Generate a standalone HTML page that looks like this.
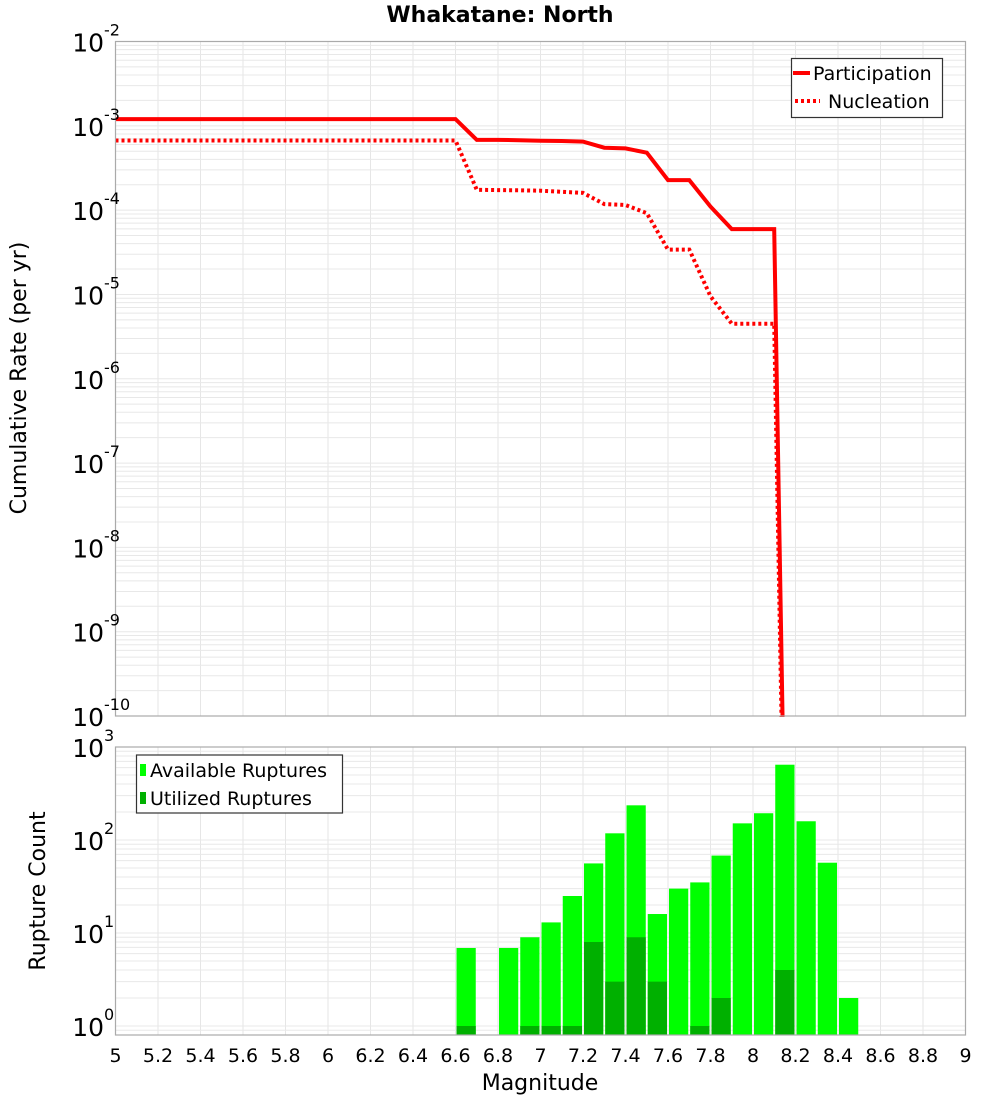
<!DOCTYPE html>
<html><head><meta charset="utf-8"><style>
html,body{margin:0;padding:0;background:#fff;width:1000px;height:1100px;overflow:hidden;}
svg{display:block;font-family:"DejaVu Sans","Liberation Sans",sans-serif;}
</style></head><body>
<svg id="chart" width="1000" height="1100"></svg>
<script>
const magX = [5, 6.6, 6.7, 6.8, 6.9, 7.0, 7.1, 7.2, 7.3, 7.4, 7.5, 7.6, 7.7, 7.8, 7.9, 8.0, 8.1, 8.2];
const partRate = [1.2e-3, 1.2e-3, 6.8e-4, 6.8e-4, 6.75e-4, 6.65e-4, 6.6e-4, 6.5e-4, 5.5e-4, 5.4e-4, 4.8e-4, 2.27e-4, 2.27e-4, 1.1e-4, 5.95e-5, 5.95e-5, 5.95e-5, 1e-19];
const nuclRate = [6.7e-4, 6.7e-4, 1.74e-4, 1.73e-4, 1.72e-4, 1.7e-4, 1.65e-4, 1.6e-4, 1.18e-4, 1.15e-4, 9.2e-5, 3.4e-5, 3.4e-5, 9.5e-6, 4.5e-6, 4.5e-6, 4.5e-6, 1e-19];
const binStart = [6.6, 6.7, 6.8, 6.9, 7.0, 7.1, 7.2, 7.3, 7.4, 7.5, 7.6, 7.7, 7.8, 7.9, 8.0, 8.1, 8.2, 8.3, 8.4];
const availCount = [6.9, 0, 6.9, 9, 13, 25, 56, 118, 236, 16, 30, 35, 68, 151, 194, 645, 159, 57, 2];
const usedCount = [1, 0, 0, 1, 1, 1, 8, 3, 9, 3, 0, 1, 2, 0, 0, 4, 0, 0, 0];
const xTicks = [5, 5.2, 5.4, 5.6, 5.8, 6, 6.2, 6.4, 6.6, 6.8, 7, 7.2, 7.4, 7.6, 7.8, 8, 8.2, 8.4, 8.6, 8.8, 9];
const topExps = [-2, -3, -4, -5, -6, -7, -8, -9, -10];
const botExps = [3, 2, 1, 0];

const NS = "http://www.w3.org/2000/svg";
const svg = document.getElementById("chart");
function mk(tag, attrs, parent) {
  const e = document.createElementNS(NS, tag);
  for (const k in attrs) e.setAttribute(k, attrs[k]);
  (parent || svg).appendChild(e);
  return e;
}
const L = 115.5, R = 965.5;
const xs = m => L + (m - 5) * (R - L) / 4;
const T1 = 41.5, B1 = 716;
const y1 = v => T1 + (-2 - Math.log10(v)) * (B1 - T1) / 8;
const T2 = 747, B2 = 1035;
const y2 = v => T2 + (3 - Math.log10(v)) * 93;

function grid(T, B, decs, yf) {
  const g = mk("g", {});
  
  
  for (const t of xTicks) mk("line", {x1: xs(t), x2: xs(t), y1: T, y2: B, stroke: "#e6e6e6", "stroke-width": 1}, g);
  for (const d of decs) for (let k = 1; k < 10; k++) {
    const y = yf(k * Math.pow(10, d));
    if (y >= T - 0.5 && y <= B + 0.5) mk("line", {x1: L, x2: R, y1: y, y2: y, stroke: "#e8e8e8", "stroke-width": 1}, g);
  }
}
grid(T1, B1, [-11, -10, -9, -8, -7, -6, -5, -4, -3], y1);
grid(T2, B2, [-1, 0, 1, 2], y2);

const title = mk("text", {x: 500, y: 22, "text-anchor": "middle", "font-size": 22, "font-weight": "bold"});
title.textContent = "Whakatane: North";



const clip = mk("clipPath", {id: "c1"});
mk("rect", {x: L, y: T1, width: R - L, height: B1 - T1 + 1}, clip);
function series(vals, dash, name) {
  const d = magX.map((m, i) => (i ? "L" : "M") + xs(m).toFixed(1) + "," + y1(vals[i]).toFixed(1)).join("");
  const p = mk("path", {d: d, fill: "none", stroke: "#ff0000", "stroke-width": 4, "clip-path": "url(#c1)"});
  if (dash) p.setAttribute("stroke-dasharray", "3,3");
  
  
}
series(partRate, false, "participation-line");
series(nuclRate, true, "nucleation-line");

const bw = (R - L) / 40;
binStart.forEach((m, i) => {
  if (availCount[i] > 0) {
    const r = mk("rect", {x: xs(m) + 1, y: y2(availCount[i]), width: bw - 2, height: B2 - y2(availCount[i]), fill: "#00ff00"});
    
    
  }
  if (usedCount[i] > 0) {
    const r = mk("rect", {x: xs(m) + 1, y: y2(usedCount[i]), width: bw - 2, height: B2 - y2(usedCount[i]), fill: "#00b000"});
    
    
  }
});

for (const [T, B, n] of [[T1, B1, "top-plot-frame"], [T2, B2, "bottom-plot-frame"]]) {
  const f = mk("rect", {x: L, y: T, width: R - L, height: B - T, fill: "none", stroke: "#aaa", "stroke-width": 1.2});
  
  
}

function ylabels(exps, yf) {
  for (const e of exps) {
    const y = yf(Math.pow(10, e));
    const t = mk("text", {x: 104, y: y + 10, "text-anchor": "end", "font-size": 25});
    t.textContent = "10";
    
    
    const s = mk("text", {x: 104, y: y - 6, "text-anchor": "start", "font-size": 16});
    s.textContent = String(e);
    
    
  }
}
ylabels(topExps, y1);
ylabels(botExps, y2);

for (const t of xTicks) {
  const e = mk("text", {x: xs(t), y: 1062, "text-anchor": "middle", "font-size": 19});
  e.textContent = String(t);
  
  
}
const xt = mk("text", {x: 540, y: 1090, "text-anchor": "middle", "font-size": 22});
xt.textContent = "Magnitude";


const yt1 = mk("text", {x: 0, y: 0, "text-anchor": "middle", "font-size": 22, transform: "translate(26,378) rotate(-90)"});
yt1.textContent = "Cumulative Rate (per yr)";


const yt2 = mk("text", {x: 0, y: 0, "text-anchor": "middle", "font-size": 22, transform: "translate(45,891) rotate(-90)"});
yt2.textContent = "Rupture Count";



const lg1 = mk("g", {});


mk("rect", {x: 791.5, y: 58.5, width: 151, height: 59, fill: "#fff", stroke: "#333", "stroke-width": 1.2}, lg1);
mk("line", {x1: 793, x2: 810, y1: 73, y2: 73, stroke: "#f00", "stroke-width": 4}, lg1);
mk("line", {x1: 795, x2: 820, y1: 101, y2: 101, stroke: "#f00", "stroke-width": 4, "stroke-dasharray": "3,3"}, lg1);
const le1 = mk("text", {x: 813, y: 80, "font-size": 19}, lg1);
le1.textContent = "Participation";


const le2 = mk("text", {x: 828, y: 108, "font-size": 19}, lg1);
le2.textContent = "Nucleation";



const lg2 = mk("g", {});


mk("rect", {x: 136.5, y: 755, width: 206, height: 58, fill: "#fff", stroke: "#333", "stroke-width": 1.2}, lg2);
mk("rect", {x: 140, y: 764, width: 6, height: 12, fill: "#00ff00"}, lg2);
mk("rect", {x: 140, y: 792, width: 6, height: 12, fill: "#00b000"}, lg2);
const le3 = mk("text", {x: 150, y: 777, "font-size": 19}, lg2);
le3.textContent = "Available Ruptures";


const le4 = mk("text", {x: 150, y: 805, "font-size": 19}, lg2);
le4.textContent = "Utilized Ruptures";


</script>
</body></html>
